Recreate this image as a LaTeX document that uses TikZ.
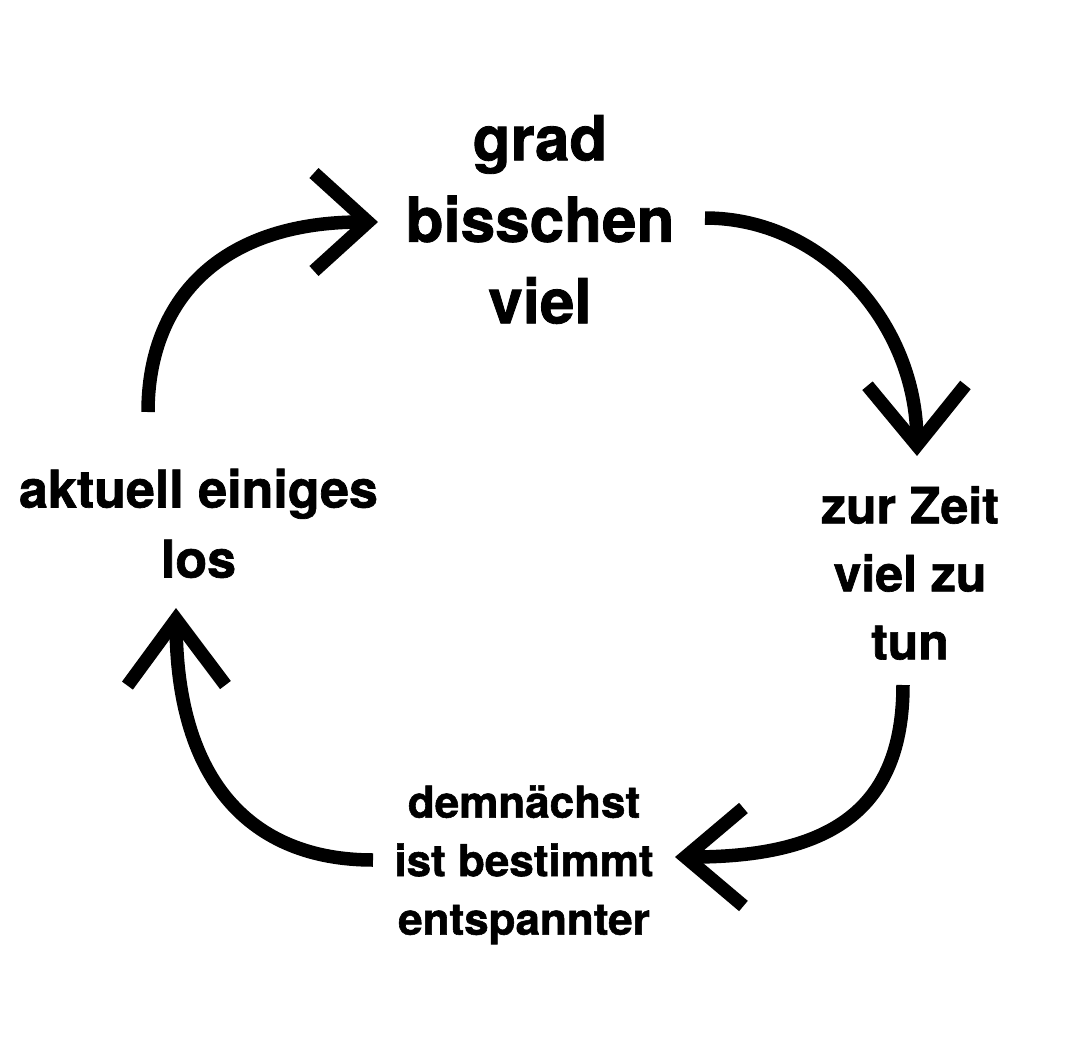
\documentclass[tikz,border=0pt]{standalone}
\usepackage{fontspec}
\setmainfont{TeX Gyre Heros}[BoldFeatures={FakeBold=1.3}]
\usetikzlibrary{arrows.meta}
\tikzset{
  lab/.style={inner sep=0pt, outer sep=0pt, align=center, text=black},
  cycarrow/.style={line width=13.5pt, draw=black, -{Straight Barb[length=#1,width=98pt]}},
  cycarrow/.default=54pt
}
\begin{document}
\begin{tikzpicture}[x=1pt,y=-1pt]
\useasboundingbox[fill=white] (0,0) rectangle (1080,1058);
% labels
\node[lab, font=\bfseries\fontsize{62}{81.5}\selectfont] (top) at (540,219.5) {grad\\bisschen\\viel};
\node[lab, font=\bfseries\fontsize{52}{70}\selectfont] (left) at (198.5,523.4) {aktuell einiges\\los};
\node[lab, font=\bfseries\fontsize{50}{68}\selectfont] (right) at (910,573) {zur Zeit\\viel zu\\tun};
\node[lab, font=\bfseries\fontsize{44}{58.5}\selectfont] (bottom) at (524,864.8) {demnächst\\ist bestimmt\\entspannter};
% arrow end points
\coordinate (a1s) at (148,412);
\coordinate (a1e) at (378,222);
\coordinate (a2s) at (705,218);
\coordinate (a2e) at (917,456);
\coordinate (a3s) at (903,685);
\coordinate (a3e) at (675,857);
\coordinate (a4s) at (373,860);
\coordinate (a4e) at (176,608);
% arrows
\draw[cycarrow] (a1s) .. controls (148,300) and (220,222) .. (a1e);
\draw[cycarrow=60pt] (a2s) .. controls (825,218) and (916,325) .. (a2e);
\draw[cycarrow=58pt] (a3s) .. controls (903,810) and (830,857) .. (a3e);
\draw[cycarrow=66pt] (a4s) .. controls (250,860) and (177,780) .. (a4e);
\end{tikzpicture}
\end{document}
